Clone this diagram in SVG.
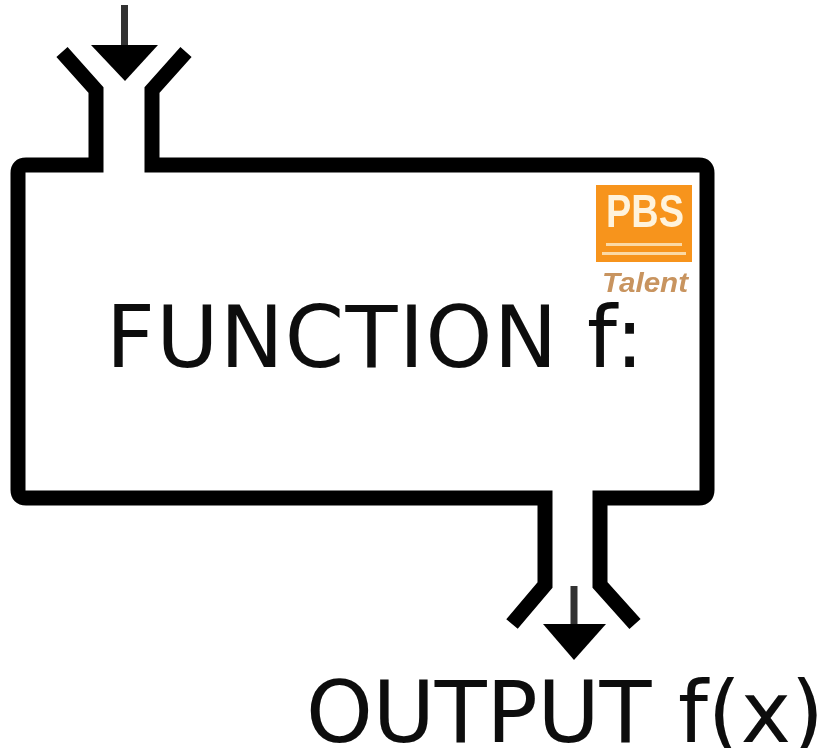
<svg xmlns="http://www.w3.org/2000/svg" width="825" height="748" viewBox="0 0 825 748">
  <style>
    .wall{fill:none;stroke:#000;stroke-width:15;stroke-linejoin:miter;stroke-linecap:butt}
    .shaft{fill:none;stroke:#333;stroke-width:7}
    .head{fill:#000}
    .label{font-family:"DejaVu Sans",sans-serif;font-size:85px;fill:#0a0a0a}
    .soft{filter:url(#soft)}
  </style>
  <defs>
    <filter id="soft" x="-5%" y="-5%" width="110%" height="110%"><feGaussianBlur stdDeviation="0.7"/></filter>
  </defs>
  <rect width="825" height="748" fill="#fff"/>
  <g id="connectors" class="soft">
    <path class="shaft" d="M124.500 5V48"/>
    <path class="head" d="M91 45H158L125 81Z"/>
    <path class="shaft" d="M574 586V628"/>
    <path class="head" d="M543 624H606L574 660Z"/>
  </g>
  <g id="function-box" class="soft">
    <path class="wall" d="M62 52L96 90V165H26Q18 165 18 173V490Q18 498 26 498H545V585L512 624M186 52L152 90V165H699Q707 165 707 173V490Q707 498 699 498H600V585L635 624"/>
    <text class="label" x="106" y="367" textLength="538">FUNCTION f:</text>
  </g>
  <g id="logo" class="soft">
    <rect x="596" y="185" width="96" height="77" fill="#f7941d"/>
    <text x="606" y="227" textLength="78" lengthAdjust="spacingAndGlyphs" font-family="'Liberation Sans',sans-serif" font-weight="bold" font-size="47" fill="#fff3dc">PBS</text>
    <rect x="606" y="243" width="76" height="3" fill="#fbd9a5"/>
    <rect x="602" y="252" width="84" height="3" fill="#fbd9a5"/>
    <text x="602" y="292" textLength="86" lengthAdjust="spacingAndGlyphs" font-family="'Liberation Sans',sans-serif" font-weight="bold" font-style="italic" font-size="28" fill="#c8945f">Talent</text>
  </g>
  <g id="output" class="soft">
    <text class="label" x="306" y="742" textLength="518">OUTPUT f(x)</text>
  </g>
</svg>
